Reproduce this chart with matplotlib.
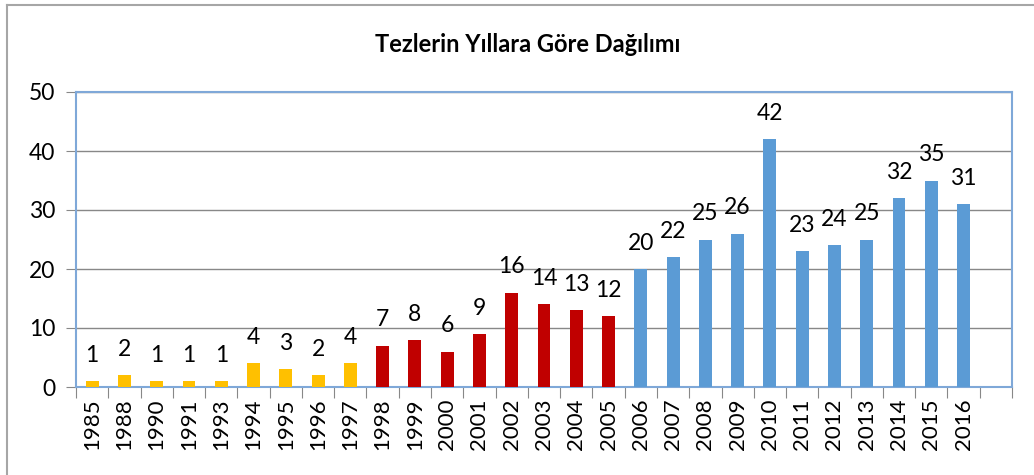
import matplotlib.pyplot as plt
from matplotlib.lines import Line2D

years = ["1985", "1988", "1990", "1991", "1993", "1994", "1995", "1996", "1997",
         "1998", "1999", "2000", "2001", "2002", "2003", "2004", "2005",
         "2006", "2007", "2008", "2009", "2010", "2011", "2012", "2013",
         "2014", "2015", "2016"]
counts = [1, 2, 1, 1, 1, 4, 3, 2, 4,
          7, 8, 6, 9, 16, 14, 13, 12,
          20, 22, 25, 26, 42, 23, 24, 25, 32, 35, 31]
groups = ["y"] * 9 + ["r"] * 8 + ["b"] * 11
group_colors = {"y": "#FFC000", "r": "#C00000", "b": "#5B9BD5"}

plt.rcParams['font.family'] = ['Lato', 'DejaVu Sans']

fig = plt.figure(figsize=(10.34, 4.75), dpi=100)
ax = fig.add_axes([76 / 1034, 1 - 387 / 475, 936 / 1034, 295 / 475])

n_slots = len(years) + 1  # one empty slot after the last year
x = list(range(len(years)))
colors = [group_colors[g] for g in groups]
ax.bar(x, counts, width=0.4, color=colors, zorder=3)

for xi, v in zip(x, counts):
    ax.annotate(str(v), (xi, v), xytext=(0, 11), textcoords="offset points",
                ha="center", va="bottom", fontsize=16.5)

ax.set_xlim(-0.5, n_slots - 0.5)
ax.set_ylim(0, 50)
ax.set_yticks(range(0, 51, 10))
ax.tick_params(axis="y", labelsize=16.5, length=7, color="#888888", direction="out", pad=8)
ax.yaxis.grid(True, color="#888888", linewidth=1, zorder=0)

ax.set_xticks([i + 0.5 for i in range(-1, n_slots)], minor=False)
ax.set_xticklabels([""] * (n_slots + 1))
ax.set_xticks(x, minor=True)
ax.set_xticklabels(years, minor=True, rotation=90, fontsize=16)
ax.tick_params(axis="x", which="major", length=8, color="#888888", direction="out")
ax.tick_params(axis="x", which="minor", length=0, pad=8)

for side in ["left", "top", "right", "bottom"]:
    ax.spines[side].set_color("#7FA8D8")
    ax.spines[side].set_linewidth(1.5)

fig.text(528 / 1034, 1 - 45 / 475, "Tezlerin Yıllara Göre Dağılımı", ha="center",
         va="center", fontsize=17, fontweight="bold")

# outer chart border (top and left visible)
fig.add_artist(Line2D([7 / 1034, 1], [1 - 5 / 475, 1 - 5 / 475], color="#A6A6A6", linewidth=1.5))
fig.add_artist(Line2D([7 / 1034, 7 / 1034], [0, 1 - 5 / 475], color="#A6A6A6", linewidth=1.5))

fig.savefig("out.png", dpi=100)
